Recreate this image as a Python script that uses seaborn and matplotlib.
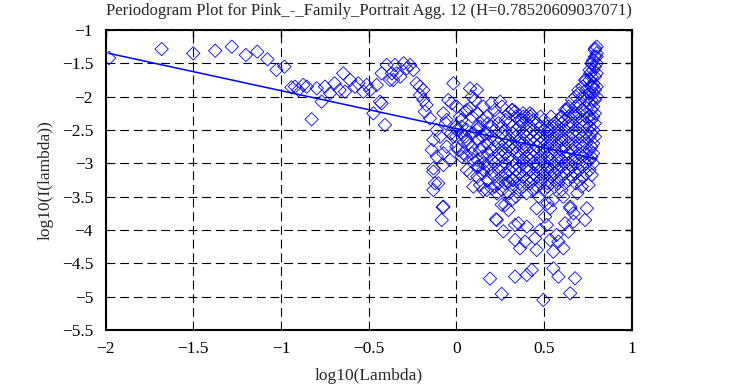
#%%
# Loading packages
import numpy as np
import pandas as pd
import matplotlib
matplotlib.use("Agg")
import matplotlib.pyplot as plt
import seaborn as sns

sns.set_style("white")
plt.rcParams['font.family'] = ['Liberation Serif', 'DejaVu Serif']
plt.rcParams['axes.unicode_minus'] = True

#%%
# Periodogram points (log10 lambda, log10 I(lambda))

# low frequencies, one point each
x_low = [-1.98, -1.68, -1.50, -1.375, -1.28, -1.20, -1.135, -1.077, -1.026, -0.98, -0.94, -0.90]
y_low = [-1.42, -1.285, -1.35, -1.31, -1.25, -1.375, -1.325, -1.44, -1.60, -1.55, -1.86, -1.90]

# -0.92 .. -0.37
x_mid = [-0.92, -0.873, -0.853, -0.825, -0.796, -0.768, -0.749, -0.72, -0.694, -0.665,
         -0.645, -0.635, -0.606, -0.578, -0.559, -0.53, -0.511, -0.492, -0.473, -0.454,
         -0.435, -0.426, -0.426, -0.407, -0.397, -0.378, -0.368]
y_mid = [-1.85, -1.825, -1.85, -2.34, -1.875, -2.075, -1.85, -1.95, -1.80, -1.90,
         -1.65, -1.925, -1.75, -1.85, -1.80, -1.925, -1.825, -1.90, -2.25, -1.825,
         -2.075, -2.10, -1.65, -2.425, -1.525, -1.75, -1.65]

# -0.36 .. 0.35, scattered part
x_cen = [-0.35, -0.30, -0.283, -0.264, -0.245, -0.34, -0.36, -0.32, -0.226, -0.207,
         -0.188, -0.207, -0.188, -0.17, -0.18, -0.15, -0.017, -0.046, -0.026, 0.002,
         0.078, 0.088, 0.107, -0.074, -0.055, 0.021, 0.05, 0.078, -0.112, -0.131,
         -0.093, -0.14, -0.074, -0.055, -0.017, 0.002, 0.03, 0.05, 0.068, 0.011,
         -0.036, -0.131, -0.103, -0.131, 0.097, 0.135, 0.154, 0.117, 0.135, 0.164,
         0.135, 0.154, 0.059, 0.097, 0.125, 0.174, 0.154, 0.117, -0.077, -0.083,
         0.226, 0.268, 0.259, 0.192, 0.259, -0.122, -0.074, -0.131, -0.074, -0.112,
         0.174, 0.202, 0.231, 0.154, 0.231, 0.278, 0.297, 0.316, 0.335, 0.335,
         0.297, 0.325, -0.06, -0.03, 0.04, 0.08, 0.12]
y_cen = [-1.525, -1.50, -1.575, -1.525, -1.60, -1.65, -1.75, -1.70, -1.80, -1.85,
         -1.90, -1.975, -2.05, -2.125, -2.225, -2.325, -1.80, -2.05, -2.10, -2.15,
         -1.875, -2.00, -2.05, -2.25, -2.35, -2.30, -2.225, -2.175, -2.50, -2.65,
         -2.60, -2.80, -2.85, -2.75, -2.60, -2.50, -2.45, -2.60, -2.70, -2.80,
         -2.95, -3.075, -3.30, -3.40, -3.35, -3.325, -3.40, -2.50, -2.45, -2.55,
         -2.80, -3.00, -2.90, -2.95, -3.05, -2.30, -2.15, -1.90, -3.66, -3.85,
         -3.84, -4.02, -3.62, -4.73, -4.96, -3.30, -3.65, -3.125, -3.025, -2.90,
         -3.40, -3.375, -3.45, -3.10, -3.85, -3.625, -3.70, -3.55, -4.15, -3.925,
         -3.275, -3.25, -2.40, -2.55, -2.85, -3.15, -3.05]

# 0.35 .. 0.80, lower scattered points
x_low_tail = [0.458, 0.535, 0.506, 0.649, 0.744, 0.734, 0.668, 0.62, 0.402, 0.354,
              0.478, 0.516, 0.449, 0.392, 0.363, 0.458, 0.535, 0.553, 0.582, 0.61,
              0.639, 0.572, 0.43, 0.402, 0.553, 0.582, 0.677, 0.649, 0.496, 0.335,
              0.754, 0.772, 0.715, 0.649, 0.668, 0.47, 0.55, 0.61, 0.69, 0.52]
y_low_tail = [-3.675, -3.675, -3.80, -3.675, -3.675, -3.85, -3.875, -3.90, -3.95, -3.90,
              -4.00, -3.925, -4.125, -4.175, -4.275, -4.30, -4.15, -4.325, -4.175, -4.275,
              -4.025, -4.075, -4.60, -4.675, -4.575, -4.70, -4.725, -4.95, -5.05, -4.70,
              -3.325, -3.175, -3.35, -3.65, -3.75, -3.50, -3.55, -3.50, -3.45, -3.60]

# upper edge of the dense cloud
x_edge = [0.25, 0.316, 0.43, 0.382, 0.42, 0.373, 0.335, 0.525, 0.601, 0.63,
          0.639, 0.677, 0.696, 0.715, 0.734, 0.754, 0.763, 0.772, 0.78, 0.791, 0.80]
y_edge = [-2.075, -2.20, -2.275, -2.30, -2.30, -2.35, -2.225, -2.50, -2.30, -2.20,
          -2.40, -2.25, -1.90, -2.20, -1.75, -2.00, -1.65, -1.50, -1.85, -1.275, -1.40]

# dense cloud, read column by column
cloud = {
    0.00: [-2.45, -2.6, -2.75],
    0.03: [-2.35, -2.55, -2.9],
    0.06: [-2.2, -2.5, -2.65, -3.1],
    0.09: [-2.3, -2.55, -2.75, -2.85],
    0.12: [-2.25, -2.45, -2.65, -2.95, -3.2],
    0.15: [-2.35, -2.6, -2.75, -2.9, -3.15],
    0.18: [-2.4, -2.55, -2.7, -2.85, -3.05, -3.25],
    0.20: [-2.1, -2.45, -2.6, -2.8, -2.95, -3.15],
    0.22: [-2.2, -2.5, -2.65, -2.75, -3.0, -3.2, -3.35],
    0.24: [-2.3, -2.4, -2.7, -2.85, -2.95, -3.1, -3.3],
    0.26: [-2.15, -2.45, -2.55, -2.8, -2.9, -3.05, -3.2, -3.4],
    0.28: [-2.35, -2.5, -2.6, -2.7, -2.85, -3.0, -3.15, -3.3],
    0.30: [-2.25, -2.4, -2.65, -2.75, -2.9, -3.1, -3.2, -3.45],
    0.32: [-2.2, -2.45, -2.55, -2.7, -2.8, -2.95, -3.05, -3.25, -3.35],
    0.34: [-2.3, -2.5, -2.6, -2.75, -2.85, -3.0, -3.1, -3.2, -3.5],
    0.36: [-2.35, -2.45, -2.65, -2.7, -2.9, -3.05, -3.15, -3.3, -3.4],
    0.38: [-2.25, -2.4, -2.55, -2.7, -2.8, -2.95, -3.0, -3.2, -3.35],
    0.40: [-2.3, -2.5, -2.6, -2.75, -2.9, -3.05, -3.1, -3.25, -3.45],
    0.42: [-2.25, -2.45, -2.55, -2.65, -2.85, -2.95, -3.1, -3.2, -3.3],
    0.44: [-2.35, -2.5, -2.6, -2.8, -2.9, -3.0, -3.15, -3.25, -3.4],
    0.46: [-2.4, -2.55, -2.65, -2.75, -2.85, -3.0, -3.05, -3.2, -3.35],
    0.48: [-2.3, -2.45, -2.6, -2.7, -2.9, -2.95, -3.1, -3.25, -3.3],
    0.50: [-2.35, -2.5, -2.65, -2.8, -2.85, -3.0, -3.15, -3.2, -3.4],
    0.52: [-2.45, -2.55, -2.6, -2.75, -2.9, -3.05, -3.1, -3.3, -3.35],
    0.54: [-2.3, -2.5, -2.65, -2.7, -2.85, -2.95, -3.1, -3.2, -3.3],
    0.56: [-2.4, -2.45, -2.6, -2.75, -2.8, -3.0, -3.05, -3.15, -3.35],
    0.58: [-2.35, -2.5, -2.55, -2.7, -2.9, -2.95, -3.1, -3.25, -3.3],
    0.60: [-2.3, -2.4, -2.6, -2.65, -2.8, -2.95, -3.05, -3.2, -3.4],
    0.62: [-2.2, -2.35, -2.5, -2.65, -2.75, -2.9, -3.0, -3.15, -3.3],
    0.64: [-2.15, -2.3, -2.45, -2.6, -2.7, -2.85, -3.0, -3.1, -3.25],
    0.66: [-2.05, -2.25, -2.4, -2.55, -2.7, -2.8, -2.95, -3.05, -3.2],
    0.68: [-2.0, -2.15, -2.3, -2.5, -2.6, -2.75, -2.9, -3.0, -3.15, -3.3],
    0.70: [-1.95, -2.1, -2.25, -2.4, -2.55, -2.7, -2.85, -3.0, -3.1, -3.25],
    0.72: [-1.85, -2.0, -2.2, -2.35, -2.45, -2.6, -2.75, -2.9, -3.05, -3.2],
    0.74: [-1.75, -1.9, -2.05, -2.25, -2.4, -2.55, -2.7, -2.85, -3.0, -3.15],
    0.76: [-1.6, -1.75, -1.95, -2.1, -2.3, -2.45, -2.6, -2.8, -2.95, -3.1],
    0.77: [-1.5, -1.7, -1.85, -2.05, -2.2, -2.35, -2.55, -2.75, -2.9],
    0.78: [-1.45, -1.6, -1.8, -1.95, -2.15, -2.3, -2.5, -2.7, -2.85, -3.0],
    0.79: [-1.3, -1.4, -1.55, -1.7, -1.9, -2.05, -2.25, -2.4, -2.6],
    0.80: [-1.25, -1.35, -1.5, -1.65, -1.85, -2.0],
}

# fitted line: slope = 1 - 2H
H = 0.78520609037071
intercept = -2.48

title = "Periodogram Plot for Pink_-_Family_Portrait Agg. 12 (H=0.78520609037071)"

#%%
# Build one table of points
cloud_x = [cx for cx, ys in cloud.items() for _ in ys]
cloud_y = [cy for ys in cloud.values() for cy in ys]

pts = pd.DataFrame({
    'x': x_low + x_mid + x_cen + x_low_tail + x_edge + cloud_x,
    'y': y_low + y_mid + y_cen + y_low_tail + y_edge + cloud_y,
})

fit_x = np.array([pts['x'].min(), pts['x'].max()])
fit_df = pd.DataFrame({'x': fit_x, 'y': intercept + (1 - 2 * H) * fit_x})

#%%
# Plot
fig, ax = plt.subplots(figsize=(7.38, 3.85), dpi=100)
fig.subplots_adjust(left=0.143, right=0.856, top=0.922, bottom=0.143)

sns.scatterplot(data=pts, x='x', y='y', marker='D', s=46, color='blue',
                facecolors='none', edgecolors='blue', linewidth=0.6, ax=ax)
sns.lineplot(data=fit_df, x='x', y='y', color='blue', linewidth=1.1, ax=ax)

ax.set_xlim(-2, 1)
ax.set_ylim(-5.5, -1)
ax.set_xticks(np.arange(-2, 1.01, 0.5))
ax.set_yticks(np.arange(-5.5, -0.99, 0.5))
ax.set_xticklabels(['−2', '−1.5', '−1', '−0.5', '0', '0.5', '1'])
ax.set_yticklabels(['−5.5', '−5', '−4.5', '−4', '−3.5', '−3', '−2.5', '−2', '−1.5', '−1'])

ax.grid(True, color='black', linestyle=(0, (8, 4.3)), linewidth=0.8)
for s in ax.spines.values():
    s.set_color('black')
    s.set_linewidth(1.5)
ax.tick_params(direction='in', length=5, width=1, top=True, right=True,
               labelsize=12.5, colors='black')
ax.tick_params(axis='y', pad=9)
ax.tick_params(axis='x', pad=8)

ax.set_xlabel('log10(Lambda)', fontsize=12.5, labelpad=8)
ax.set_ylabel('log10(I(lambda))', fontsize=12.5, labelpad=6)
ax.set_title(title, fontsize=12, pad=11)

plt.savefig('out.png', dpi=100)
